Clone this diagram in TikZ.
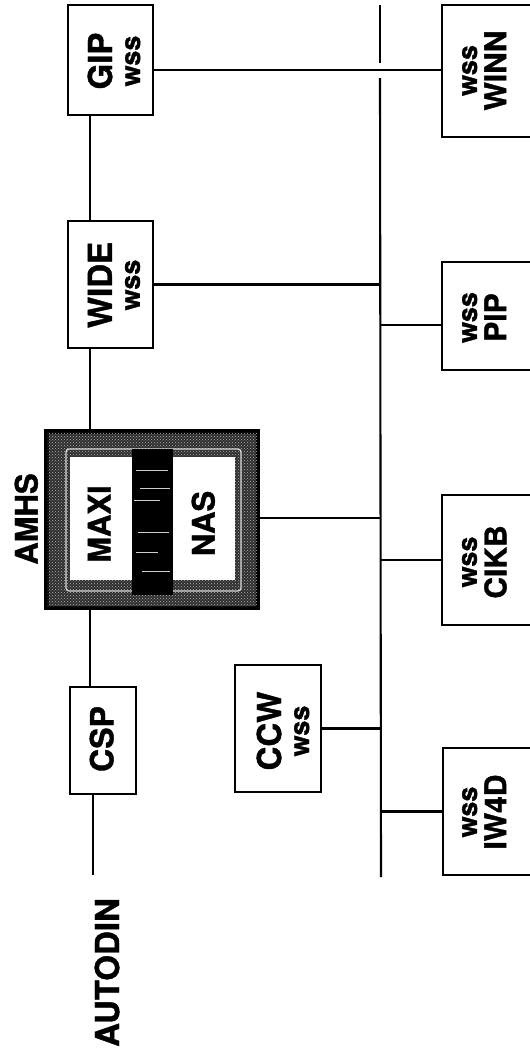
\documentclass[tikz,border=0pt]{standalone}
\usepackage{fontspec}
\setmainfont{TeX Gyre Heros}[BoldFeatures={FakeBold=1.2}]
\usetikzlibrary{patterns}
\newcommand\FBig{\fontsize{33}{28}\selectfont}
\newcommand\FMid{\fontsize{31}{28}\selectfont}
\newcommand\FRt{\fontsize{30}{28}\selectfont}
\newcommand\FCsp{\fontsize{32}{28}\selectfont}
\newcommand\FSm{\fontsize{27}{28}\selectfont}
\newcommand\RLab[2]{\rotatebox{90}{#1\bfseries\begin{tabular}{@{}c@{}}#2\end{tabular}}}
\begin{document}
\begin{tikzpicture}[x=1pt,y=-1pt,
  wbox/.style={draw, line width=2.8pt, inner sep=0pt, fill=white},
  lab/.style={inner sep=0pt},
  conn/.style={line width=2.4pt},
  busline/.style={line width=2.1pt}]
\useasboundingbox (0,0) rectangle (530,1050);

% left column boxes
\node[wbox, minimum width=85pt, minimum height=110pt] (GIP) at (110.5,60) {};
\node[lab] (GIPt) at (118,61) {\RLab{\FBig}{GIP\\{\FSm wss}}};
\node[wbox, minimum width=85pt, minimum height=127pt] (WIDE) at (110.5,284.5) {};
\node[lab] (WIDEt) at (118,285) {\RLab{\FBig}{WIDE\\{\FSm wss}}};
\node[wbox, minimum width=66pt, minimum height=107pt] (CSP) at (103,740.5) {};
\node[lab] (CSPt) at (105.7,739) {\RLab{\FCsp}{CSP}};
\node[wbox, minimum width=86pt, minimum height=127pt] (CCW) at (278,728.5) {};
\node[lab] (CCWt) at (287,731) {\RLab{\FBig}{CCW\\{\FSm wss}}};

% AMHS frame
\node[draw, line width=3pt, fill=black!82, minimum width=210pt, minimum height=175pt, inner sep=0pt] (AMHS) at (152,519.5) {};
\fill[pattern=crosshatch dots, pattern color=white!70!black] (AMHS.south west) rectangle (AMHS.north east);
\draw[line width=3.5pt] (AMHS.south west) rectangle (AMHS.north east);
\draw[white!85!black, line width=1.2pt, rounded corners=3pt] (66,449) rectangle (241,591);
\fill[black] (132,449) rectangle (173,595);
\foreach \yy/\xa/\xb in {470/136/168, 488/140/170, 500/134/160, 532/138/169, 552/136/158, 571/142/170}
  \draw[white!80!black, line width=0.9pt] (\xa,\yy) -- (\xb,\yy);
\node[fill=white, minimum width=62pt, minimum height=123pt, inner sep=0pt] (MAXI) at (101,518.5) {};
\node[lab] (MAXIt) at (103.3,524) {\RLab{\FMid}{MAXI}};
\node[fill=white, minimum width=62pt, minimum height=123pt, inner sep=0pt] (NAS) at (204,518.5) {};
\node[lab] (NASt) at (207.3,523.5) {\RLab{\FMid}{NAS}};
\node[lab] (AMHSlbl) at (30.3,519) {\RLab{\FMid}{AMHS}};

% right column boxes
\node[wbox, minimum width=92pt, minimum height=132pt] (WINN) at (488,71) {};
\node[lab] (WINNt) at (486,70.5) {\RLab{\FRt}{{\FSm wss}\\[-1pt]WINN}};
\node[wbox, minimum width=92pt, minimum height=108pt] (PIP) at (488,316) {};
\node[lab] (PIPt) at (486,317.5) {\RLab{\FRt}{{\FSm wss}\\[-1pt]PIP}};
\node[wbox, minimum width=92pt, minimum height=130pt] (CIKB) at (488,560) {};
\node[lab] (CIKBt) at (486,562) {\RLab{\FRt}{{\FSm wss}\\[-1pt]CIKB}};
\node[wbox, minimum width=92pt, minimum height=127pt] (IW4D) at (489,811.5) {};
\node[lab] (IW4Dt) at (486,812) {\RLab{\FRt}{{\FSm wss}\\[-1pt]IW4D}};

\node[lab] (AUTODIN) at (111,972.5) {\RLab{\FBig}{AUTODIN}};

% bus
\coordinate (busT) at (380,5);
\coordinate (busG1) at (380,63);
\coordinate (busG2) at (380,78);
\coordinate (busB) at (381,877);
\draw[busline] (busT) -- (busG1);
\draw[busline] (busG2) -- (busB);

% helper coordinates
\coordinate (yGW) at (0,70);
\coordinate (yPIP) at (0,325);
\coordinate (yNAS) at (0,518);
\coordinate (xA) at (90,0);
\coordinate (xB) at (93,0);

% connectors
\draw[conn] (GIP.east |- yGW) -- (WINN.west |- yGW);
\draw[conn] (WIDE.east) -- (WIDE.east -| busT);
\draw[conn] (PIP.west |- yPIP) -- (busT |- yPIP);
\draw[conn] (AMHS.east |- yNAS) -- (busT |- yNAS);
\draw[conn] (CIKB.west) -- (CIKB.west -| busT);
\draw[conn] (CCW.east) -- (CCW.east -| busT);
\draw[conn] (IW4D.west) -- (IW4D.west -| busT);

\draw[conn] (GIP.south -| xA) -- (WIDE.north -| xA);
\draw[conn] (WIDE.south -| xA) -- (AMHS.north -| xA);
\draw[conn] (AMHS.south -| xA) -- (CSP.north -| xA);
\draw[conn, shorten >=23pt] (CSP.south -| xB) -- (AUTODIN.north -| xB);
\end{tikzpicture}
\end{document}
